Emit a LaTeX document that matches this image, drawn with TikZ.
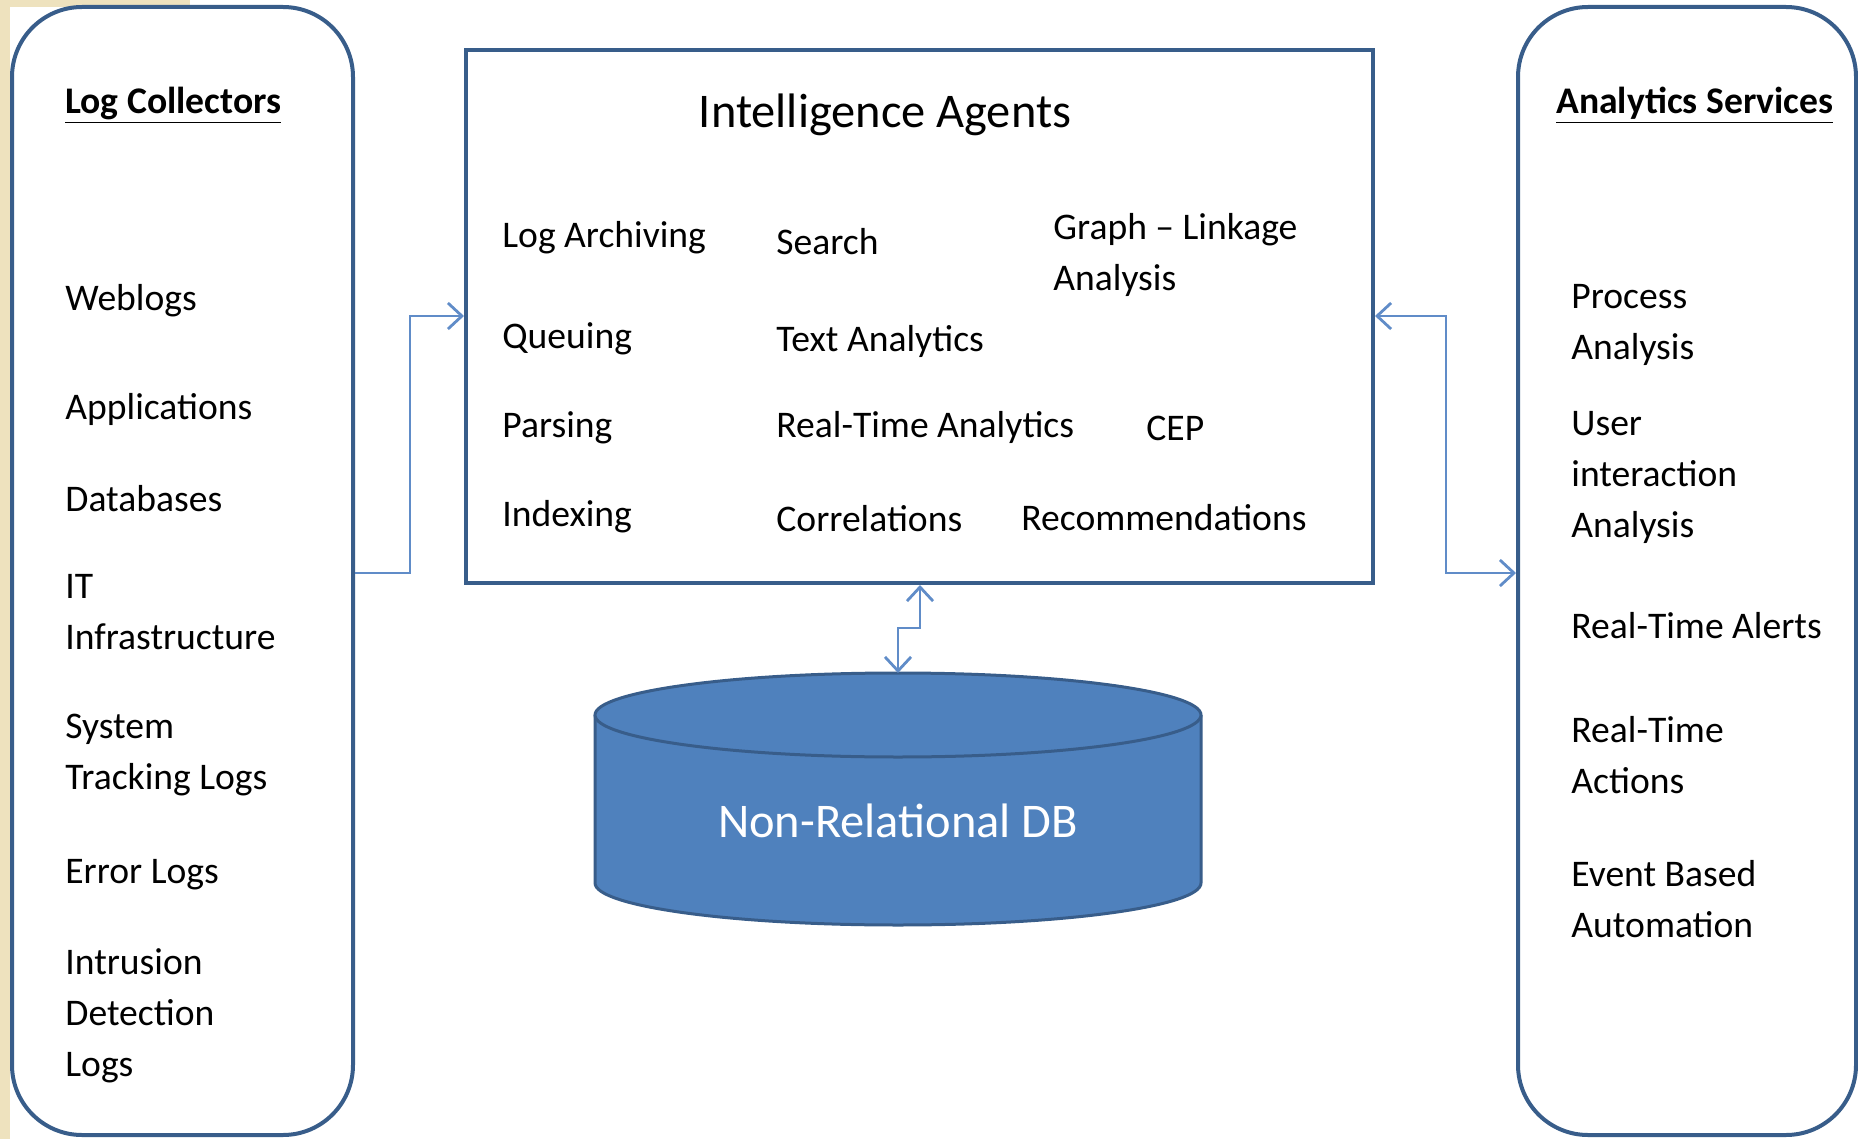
\documentclass[tikz,border=0pt]{standalone}
\usepackage{fontspec}
\setmainfont{Carlito}
\usetikzlibrary{arrows.meta}
\definecolor{boxblue}{RGB}{56,93,138}
\definecolor{flowblue}{RGB}{96,140,200}
\definecolor{dbblue}{RGB}{79,129,189}
\definecolor{paper}{RGB}{238,226,190}
\tikzset{
  panel/.style={draw=boxblue, line width=2pt, rounded corners=35pt},
  agentbox/.style={draw=boxblue, line width=2pt},
  item/.style={anchor=west, align=left, inner sep=0pt, yshift=-2.2pt, font=\fontsize{18.8}{25.5}\selectfont},
  head/.style={item, font=\fontsize{18.8}{25.5}\selectfont\bfseries},
  flow/.style={draw=flowblue, line width=1.4pt, >={Straight Barb[length=7pt,width=13pt]}},
}

\begin{document}
\begin{tikzpicture}[x=0.5pt,y=-0.5pt]
\useasboundingbox (0,0) rectangle (1858,1139);
% Page background
\fill[paper] (0,0) rectangle (190,7);
\fill[paper] (0,0) rectangle (10,1139);
% Panels
\node[panel, minimum width=170.5pt, minimum height=564pt] (lc) at (182.5,571) {};
\node[panel, minimum width=169pt, minimum height=564pt] (as) at (1687,571) {};
\node[agentbox, minimum width=453.5pt, minimum height=266.5pt] (ia) at (919.5,316.5) {};
% Log collectors
\node[head] (lchead) at (65,101) {\underline{Log Collectors}};
\foreach \n/\y/\t in {weblogs/296/Weblogs, apps/405/Applications, dbs/494/Databases,
    itinfra/608/{IT\\Infrastructure}, systrack/751/{System\\Tracking Logs},
    errlogs/870/Error Logs, intrusion/1011/{Intrusion\\Detection\\Logs}}
  \node[item] (\n) at (65,\y) {\t};
% Intelligence agents
\node[font=\fontsize{24.2}{29}\selectfont, yshift=-2pt] (iahead) at (885,111) {Intelligence Agents};
\foreach \n/\y/\t in {archiving/233/Log Archiving, queuing/334/Queuing,
    parsing/423/Parsing, indexing/512/Indexing}
  \node[item] (\n) at (502,\y) {\t};
\foreach \n/\y/\t in {search/237/Search, text/337/Text Analytics,
    realtime/423/Real-Time Analytics, correl/514/Correlations}
  \node[item] (\n) at (776,\y) {\t};
\node[item] (graph) at (1053,251) {Graph -- Linkage\\Analysis};
\node[item] (cep) at (1146,424) {CEP};
\node[item] (recomm) at (1021,513) {Recommendations};
% Analytics services
\node[head] (ashead) at (1556,101) {\underline{Analytics Services}};
\foreach \n/\y/\t in {process/321/{Process\\Analysis}, user/473/{User\\interaction\\Analysis},
    alerts/621/Real-Time Alerts, actions/751/{Real-Time\\Actions},
    event/895/{Event Based\\Automation}}
  \node[item] (\n) at (1571,\y) {\t};
% Non-relational DB
\filldraw[fill=dbblue, draw=boxblue, line width=1.5pt] (595,715) -- (595,883)
  arc[start angle=180, end angle=0, x radius=303, y radius=42] -- (1201,715);
\filldraw[fill=dbblue, draw=boxblue, line width=1.5pt] (898,715) ellipse [x radius=303, y radius=42];
\node[text=white, font=\fontsize{24.2}{29}\selectfont] (db) at (898,821) {Non-Relational DB};
\coordinate (dbtop) at (898,673);
% Connectors
\draw[flow,->] (lc.east |- 0,573) -| (410,316) -- (ia.west |- 0,316);
\draw[flow,<->] (ia.east |- 0,316) -| (1446,573) -- (as.west |- 0,573);
\draw[flow,<->] (ia.south -| 920,0) -- (920,628) -| (dbtop);
\end{tikzpicture}
\end{document}
